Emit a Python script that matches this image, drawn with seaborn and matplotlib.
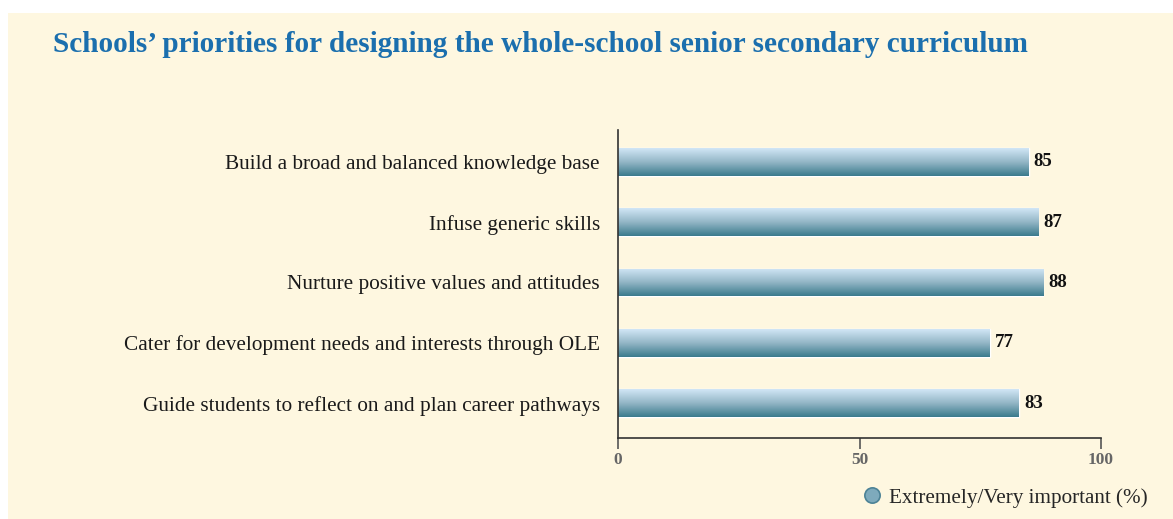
import numpy as np
import pandas as pd
import matplotlib
matplotlib.use('Agg')
import matplotlib.pyplot as plt
import seaborn as sns
from matplotlib.colors import LinearSegmentedColormap
from matplotlib.patches import Rectangle
from matplotlib.lines import Line2D

categories = [
    "Build a broad and balanced knowledge base",
    "Infuse generic skills",
    "Nurture positive values and attitudes",
    "Cater for development needs and interests through OLE",
    "Guide students to reflect on and plan career pathways",
]
values = [85, 87, 88, 77, 83]
x_ticks = [0, 50, 100]
legend_label = "Extremely/Very important (%)"
title = "Schools\u2019 priorities for designing the whole-school senior secondary curriculum"

sns.set_theme(style="white")
plt.rcParams['font.family'] = ['Liberation Serif', 'DejaVu Serif']

W, H = 1173, 519
fig = plt.figure(figsize=(W / 100, H / 100), dpi=100)
fig.patch.set_facecolor('white')
fig.patches.append(Rectangle((8 / W, 0), 1 - 8 / W, (H - 13) / H, transform=fig.transFigure,
                             facecolor='#fef7e0', edgecolor='none', zorder=-5))

ax = fig.add_axes([618 / W, (H - 437.7) / H, (1101 - 618) / W, (437.7 - 130) / H])
ax.set_facecolor('none')
ax.set_zorder(2)

df = pd.DataFrame({"category": categories, "value": values})
sns.barplot(data=df, x="value", y="category", orient="h", color="#6a9fb5",
            width=0.46, ax=ax, saturation=1)

cmap = LinearSegmentedColormap.from_list('g', ['#d2e7f6', '#93b6c6', '#3a7a8c'])
grad = np.linspace(0, 1, 256).reshape(-1, 1)
for p in list(ax.patches):
    x0, y0 = p.get_x(), p.get_y()
    w, h = p.get_width(), p.get_height()
    im = ax.imshow(grad, cmap=cmap, extent=(x0, x0 + w, y0 + h, y0), origin='upper',
                   aspect='auto', zorder=p.get_zorder() + 0.1, interpolation='bicubic')
    im.set_clip_path(p)

for i, v in enumerate(values):
    ax.text(v + 1.1, i, f"{v}", va='center', ha='left', fontsize=13.5,
            fontweight='bold', color='#111111')

ax.set_xlim(0, 100)
ax.set_ylim(4.57, -0.525)
ax.set_xticks(x_ticks)
ax.set_xticklabels([str(t) for t in x_ticks], fontsize=12.5, fontweight='bold', color='#666666')
ax.tick_params(axis='x', bottom=True, length=8, width=1.2, color='#555555', direction='out', pad=2)
ax.tick_params(axis='y', left=False, length=0, pad=13, labelsize=15.3, labelcolor='#1a1a1a')
ax.set_xlabel('')
ax.set_ylabel('')
for s in ['top', 'right']:
    ax.spines[s].set_visible(False)
for s in ['left', 'bottom']:
    ax.spines[s].set_color('#333333')
    ax.spines[s].set_linewidth(1.2)

fig.text(53 / W, 1 - 45 / H, title, fontsize=21.1, fontweight='bold', color='#1b6fae',
         va='center', ha='left')

handle = Line2D([], [], marker='o', linestyle='', markersize=11,
                markerfacecolor='#7eaabc', markeredgecolor='#4c8296', markeredgewidth=1.2)
fig.legend(handles=[handle], labels=[legend_label], loc='center right',
           bbox_to_anchor=(1158 / W, 1 - 498 / H), frameon=False, fontsize=15.2,
           handletextpad=0.2, borderpad=0, handlelength=1.2)

fig.savefig('out.png', dpi=100)
